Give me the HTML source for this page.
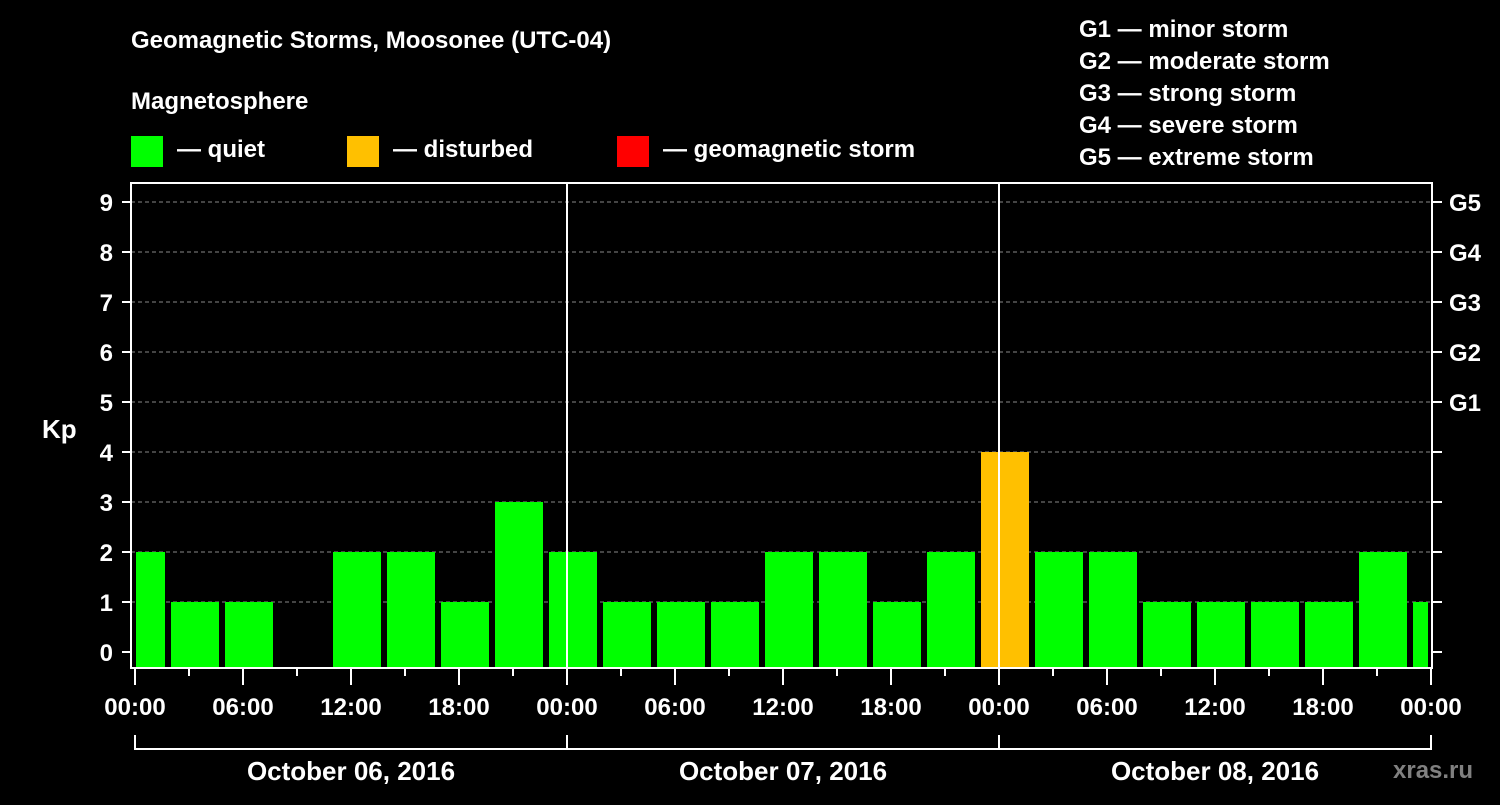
<!DOCTYPE html>
<html><head><meta charset="utf-8"><style>
body{margin:0;background:#000;width:1500px;height:800px;overflow:hidden}
svg text{font-family:"Liberation Sans",Arial,sans-serif;font-weight:bold;fill:#fff}
</style></head><body>
<svg id="c" width="1500" height="800">
<text x="131" y="48" font-size="24">Geomagnetic Storms, Moosonee (UTC-04)</text>
<text x="131" y="109" font-size="24">Magnetosphere</text>
<rect x="131" y="136" width="32" height="31" fill="#00ff00"/>
<text x="177" y="157" font-size="24">— quiet</text>
<rect x="347" y="136" width="32" height="31" fill="#ffc000"/>
<text x="393" y="157" font-size="24">— disturbed</text>
<rect x="617" y="136" width="32" height="31" fill="#ff0000"/>
<text x="663" y="157" font-size="24">— geomagnetic storm</text>
<g font-size="24">
<text x="1079" y="37">G1 — minor storm</text>
<text x="1079" y="69">G2 — moderate storm</text>
<text x="1079" y="101">G3 — strong storm</text>
<text x="1079" y="133">G4 — severe storm</text>
<text x="1079" y="165">G5 — extreme storm</text>
</g>
<text x="42" y="438" font-size="26">Kp</text>
<text x="1393" y="778" font-size="24" style="fill:#808080">xras.ru</text>
<g id="plot"></g>
</svg>
<script>
const values=[2,1,1,0,2,2,1,3,2,1,1,1,2,2,1,2,4,2,2,1,1,1,1,2,1];
const yTicks=[0,1,2,3,4,5,6,7,8,9];
const gLabels=["G1","G2","G3","G4","G5"];
const xLabels=["00:00","06:00","12:00","18:00","00:00","06:00","12:00","18:00","00:00","06:00","12:00","18:00","00:00"];
const days=["October 06, 2016","October 07, 2016","October 08, 2016"];
const NS="http://www.w3.org/2000/svg";
const g=document.getElementById('plot');
const X0=135,HPX=18,L=131,R=1432,T=183,B=668;
const y=v=>652-50*v;
const x=h=>X0+h*HPX;
function mk(t,a){const e=document.createElementNS(NS,t);for(const k in a)e.setAttribute(k,a[k]);g.appendChild(e);return e;}
yTicks.forEach(v=>{
  if(v>0){const gl=mk('line',{x1:L,x2:R,y1:y(v),y2:y(v),stroke:'#888','stroke-dasharray':'4,3','stroke-width':1});
  
  }
  const t=mk('line',{x1:122,x2:L,y1:y(v),y2:y(v),stroke:'#fff','stroke-width':2});
  
  
  const t2=mk('line',{x1:R,x2:1442,y1:y(v),y2:y(v),stroke:'#fff','stroke-width':2});
  
  
  const tx=mk('text',{x:113,y:y(v)+9,'font-size':24,'text-anchor':'end'});tx.textContent=v;
  
  
});
gLabels.forEach((s,i)=>{const tx=mk('text',{x:1449,y:y(5+i)+9,'font-size':24});tx.textContent=s;
  
  });
values.forEach((v,k)=>{
  let x1=x(3*k-1),x2=x1+48;
  if(v<=0)return;
  x1=Math.max(x1,136);x2=Math.min(x2,1428);
  const col=v>=5?'#ff0000':v>=4?'#ffc000':'#00ff00';
  const r=mk('rect',{x:x1,y:y(v),width:x2-x1,height:B-y(v),fill:col});
  
  
});
[1,2].forEach(d=>{const l=mk('line',{x1:x(24*d),x2:x(24*d),y1:T,y2:B,stroke:'#fff','stroke-width':2});
  
  });
const frame=mk('rect',{x:L,y:T,width:R-L,height:B-T,fill:'none',stroke:'#fff','stroke-width':2});


for(let h=0;h<=72;h+=3){
  const maj=h%6===0;
  const t=mk('line',{x1:x(h),x2:x(h),y1:B,y2:maj?685:676,stroke:'#fff','stroke-width':2});
  
  
}
xLabels.forEach((s,i)=>{const tx=mk('text',{x:x(6*i),y:715,'font-size':24,'text-anchor':'middle'});tx.textContent=s;
  
  });
days.forEach((s,d)=>{
  const p=mk('path',{d:`M${x(24*d)},735V749H${x(24*d+24)}V735`,fill:'none',stroke:'#fff','stroke-width':2});
  
  
  const tx=mk('text',{x:x(24*d+12),y:780,'font-size':26,'text-anchor':'middle'});tx.textContent=s;
  
  
});
</script>
</body></html>
